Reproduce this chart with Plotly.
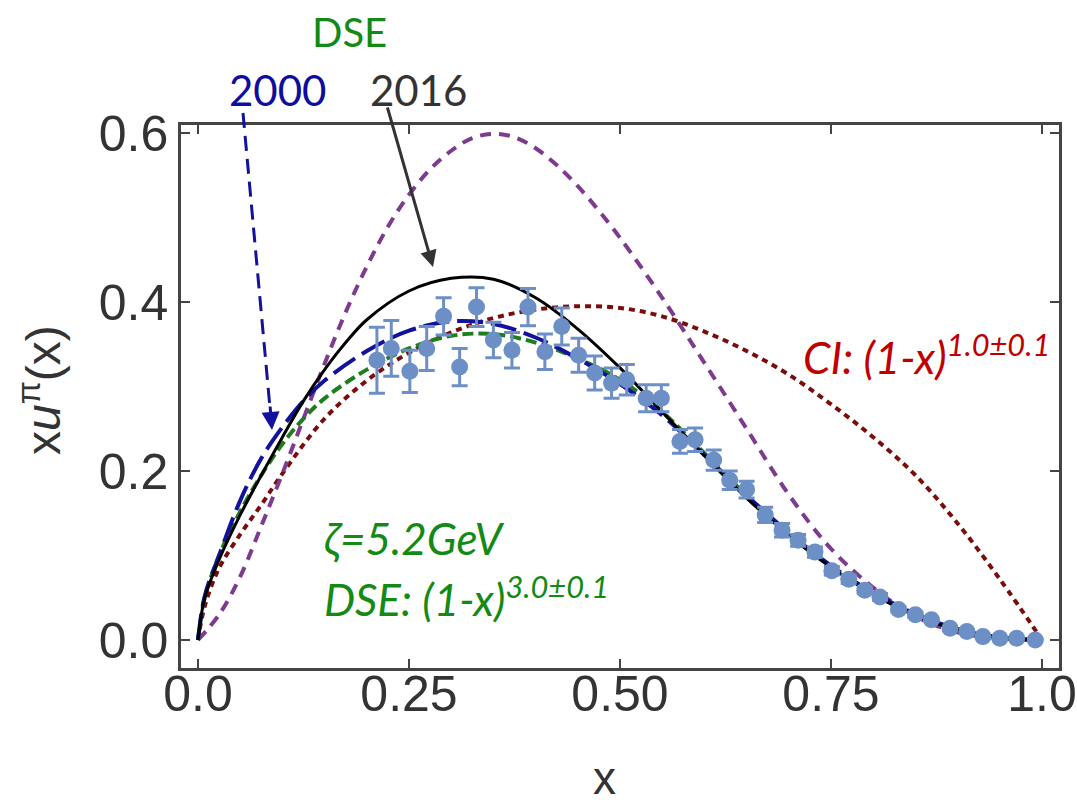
import plotly.graph_objects as go

# ---------------- data ----------------
data_x = [0.212, 0.229, 0.251, 0.271, 0.291, 0.310, 0.330, 0.350, 0.372, 0.391,
          0.411, 0.431, 0.451, 0.470, 0.490, 0.508, 0.531, 0.549, 0.571, 0.589,
          0.611, 0.630, 0.650, 0.672, 0.692, 0.711, 0.731, 0.751, 0.771, 0.790,
          0.808, 0.830, 0.850, 0.869, 0.891, 0.911, 0.930, 0.950, 0.970, 0.992]
data_y = [0.331, 0.345, 0.318, 0.345, 0.383, 0.323, 0.394, 0.355, 0.343, 0.394,
          0.341, 0.371, 0.337, 0.316, 0.304, 0.308, 0.286, 0.286, 0.235, 0.237,
          0.213, 0.189, 0.178, 0.148, 0.130, 0.118, 0.104, 0.082, 0.072, 0.059,
          0.051, 0.036, 0.030, 0.024, 0.014, 0.010, 0.004, 0.002, 0.002, 0.000]
data_err = [0.039, 0.033, 0.025, 0.026, 0.022, 0.022, 0.023, 0.021, 0.021, 0.022,
            0.021, 0.022, 0.020, 0.020, 0.018, 0.018, 0.016, 0.016, 0.014, 0.014,
            0.012, 0.011, 0.010, 0.009, 0.008, 0.007, 0.006, 0.005, 0.005, 0.004,
            0.004, 0.003, 0.003, 0.002, 0.002, 0.002, 0.001, 0.001, 0.001, 0.001]

# DSE 2016 (black solid)
dse16_x = [0.0, 0.008, 0.025, 0.05, 0.075, 0.10, 0.125, 0.15, 0.175, 0.20, 0.25, 0.30, 0.35,
           0.40, 0.45, 0.50, 0.55, 0.60, 0.65, 0.70, 0.75, 0.80, 0.85, 0.90, 0.95, 1.0]
dse16_y = [0.0, 0.050, 0.095, 0.148, 0.195, 0.240, 0.283, 0.320, 0.352, 0.379, 0.413, 0.428, 0.427,
           0.405, 0.368, 0.322, 0.270, 0.218, 0.168, 0.124, 0.086, 0.054, 0.029, 0.012, 0.003, 0.0]

# DSE 2000 (blue long dash)
dse00_x = [0.0, 0.008, 0.025, 0.05, 0.075, 0.10, 0.125, 0.15, 0.20, 0.25, 0.30, 0.35,
           0.40, 0.45, 0.50, 0.55, 0.60, 0.65, 0.70, 0.75, 0.80, 0.85, 0.90, 0.95, 1.0]
dse00_y = [0.0, 0.052, 0.100, 0.165, 0.215, 0.252, 0.283, 0.307, 0.342, 0.366, 0.377, 0.374,
           0.358, 0.333, 0.303, 0.266, 0.219, 0.171, 0.127, 0.088, 0.056, 0.031, 0.013, 0.003, 0.0]

# DSE (1-x)^3 (green dashed)
dsegr_x = [0.0, 0.008, 0.025, 0.05, 0.075, 0.10, 0.125, 0.15, 0.20, 0.25, 0.30, 0.35,
           0.40, 0.45, 0.50, 0.55, 0.60, 0.65, 0.70, 0.75, 0.80, 0.85, 0.90, 0.95, 1.0]
dsegr_y = [0.0, 0.050, 0.100, 0.152, 0.195, 0.232, 0.262, 0.286, 0.320, 0.345, 0.360, 0.362,
           0.352, 0.333, 0.308, 0.270, 0.221, 0.171, 0.126, 0.087, 0.055, 0.030, 0.012, 0.003, 0.0]

# CI (dark red dotted)
ci_x = [0.0, 0.008, 0.025, 0.05, 0.075, 0.10, 0.15, 0.20, 0.25, 0.30, 0.35, 0.40, 0.45,
        0.50, 0.55, 0.60, 0.65, 0.70, 0.75, 0.80, 0.85, 0.90, 0.95, 1.0]
ci_y = [0.0, 0.040, 0.085, 0.125, 0.160, 0.197, 0.262, 0.307, 0.340, 0.364, 0.381, 0.391, 0.395,
        0.393, 0.383, 0.365, 0.342, 0.314, 0.279, 0.240, 0.195, 0.138, 0.072, 0.0]

# purple dashed
pur_x = [0.0, 0.025, 0.05, 0.075, 0.10, 0.125, 0.15, 0.175, 0.20, 0.225, 0.25, 0.275, 0.30,
         0.325, 0.35, 0.375, 0.40, 0.425, 0.45, 0.475, 0.50, 0.55, 0.60, 0.65, 0.70, 0.75,
         0.80, 0.85, 0.90, 0.95, 1.0]
pur_y = [0.0, 0.030, 0.075, 0.135, 0.197, 0.262, 0.327, 0.388, 0.442, 0.489, 0.527, 0.557, 0.579,
         0.594, 0.599, 0.595, 0.582, 0.562, 0.537, 0.508, 0.476, 0.405, 0.328, 0.250, 0.172, 0.108,
         0.062, 0.028, 0.009, 0.002, 0.0]

x_ticks = [0.0, 0.25, 0.5, 0.75, 1.0]
x_tick_text = ["0.0", "0.25", "0.50", "0.75", "1.0"]
y_ticks = [0.0, 0.2, 0.4, 0.6]
y_tick_text = ["0.0", "0.2", "0.4", "0.6"]

# ---------------- figure ----------------
# plot area in pixels: left 181, right 1059, top 125, bottom 668
PL, PR, PT, PB = 181.0, 1059.0, 125.0, 668.0
X0, XS = 198.0, 844.0   # pixel of x=0, pixels per unit
Y0, YS = 640.0, 845.0   # pixel of y=0, pixels per unit
def dx(px):
    return (px - X0) / XS
def dy(py):
    return (Y0 - py) / YS
def px_(px):
    return (px - PL) / (PR - PL)
def py_(py):
    return (PB - py) / (PB - PT)

fig = go.Figure()

fig.add_trace(go.Scatter(x=ci_x, y=ci_y, mode="lines", line_shape="spline",
                         line=dict(color="#7a0c0c", width=4, dash="6px,5px")))
fig.add_trace(go.Scatter(x=pur_x, y=pur_y, mode="lines", line_shape="spline",
                         line=dict(color="#7e3a8e", width=4, dash="11px,8px")))
fig.add_trace(go.Scatter(x=dsegr_x, y=dsegr_y, mode="lines", line_shape="spline",
                         line=dict(color="#1e7d1e", width=4, dash="11px,5px")))
fig.add_trace(go.Scatter(x=dse00_x, y=dse00_y, mode="lines", line_shape="spline",
                         line=dict(color="#12129c", width=4, dash="26px,8px")))
fig.add_trace(go.Scatter(x=dse16_x, y=dse16_y, mode="lines", line_shape="spline",
                         line=dict(color="#000000", width=3)))
fig.add_trace(go.Scatter(x=data_x, y=data_y, mode="markers",
                         marker=dict(color="#6c8fc6", size=17),
                         error_y=dict(type="data", array=data_err, color="#6c8fc6",
                                      thickness=3, width=8)))

axis_common = dict(showgrid=False, zeroline=False, showline=True, mirror="ticks",
                   linecolor="#444444", linewidth=2.5, ticks="inside", ticklen=9,
                   tickwidth=2, tickcolor="#444444", automargin=False,
                   tickfont=dict(family="Liberation Sans, Arial", size=50, color="#333333"))

fig.update_layout(
    width=1077, height=808,
    margin=dict(l=181, r=18, t=125, b=140, autoexpand=False),
    paper_bgcolor="white", plot_bgcolor="white",
    showlegend=False,
    xaxis=dict(range=[dx(PL), dx(PR)], tickvals=x_ticks, ticktext=x_tick_text,
               ticklabelstandoff=-20, **axis_common),
    yaxis=dict(range=[dy(PB), dy(PT)], tickvals=y_ticks, ticktext=y_tick_text,
               ticklabelstandoff=0, **axis_common),
)

txt_font = "Lato, Noto Sans, sans-serif"
annots = [
    dict(x=px_(349), y=py_(32), text="DSE", font=dict(family=txt_font, size=40, color="#138a13")),
    dict(x=px_(277), y=py_(90), text="2000", font=dict(family=txt_font, size=42, color="#0d0d9e")),
    dict(x=px_(418), y=py_(90), text="2016", font=dict(family=txt_font, size=42, color="#333333")),
    dict(x=px_(414), y=py_(538),
         text="<i>ζ=5.2GeV</i>", font=dict(family=txt_font, size=44, color="#138a13")),
    dict(x=px_(466), y=py_(596),
         text="<i>DSE: (1-x)<sup>3.0±0.1</sup></i>", font=dict(family=txt_font, size=44, color="#138a13")),
    dict(x=px_(926), y=py_(354),
         text="<i>CI: (1-x)<sup>1.0±0.1</sup></i>", font=dict(family=txt_font, size=44, color="#c00000")),
    dict(x=px_(40), y=py_(390), text="x<i>u</i><sup>π</sup>(x)", textangle=-90,
         font=dict(family="Liberation Sans, Arial", size=48, color="#333333")),
    dict(x=px_(604), y=py_(778), text="x",
         font=dict(family="Liberation Sans, Arial", size=46, color="#333333")),
]
for a in annots:
    a.update(xref="paper", yref="paper", showarrow=False, xanchor="center", yanchor="middle")
    fig.add_annotation(**a)

# black solid arrow (2016)
fig.add_annotation(x=dx(433), y=dy(267), xref="x", yref="y", text="",
                   showarrow=True, ax=dx(387), ay=dy(106), axref="x", ayref="y",
                   arrowhead=2, arrowsize=1.1, arrowwidth=3, arrowcolor="#333333", standoff=0)

# blue dashed arrow (2000)
fig.add_shape(type="line", xref="paper", yref="paper",
              x0=px_(243), y0=py_(113), x1=px_(270), y1=py_(408),
              line=dict(color="#12129c", width=3, dash="15px,8px"))
fig.add_annotation(x=dx(272), y=dy(430), xref="x", yref="y", text="",
                   showarrow=True, ax=dx(270), ay=dy(405), axref="x", ayref="y",
                   arrowhead=2, arrowsize=1.2, arrowwidth=3, arrowcolor="#12129c", standoff=0)

fig.write_html("out.html")
